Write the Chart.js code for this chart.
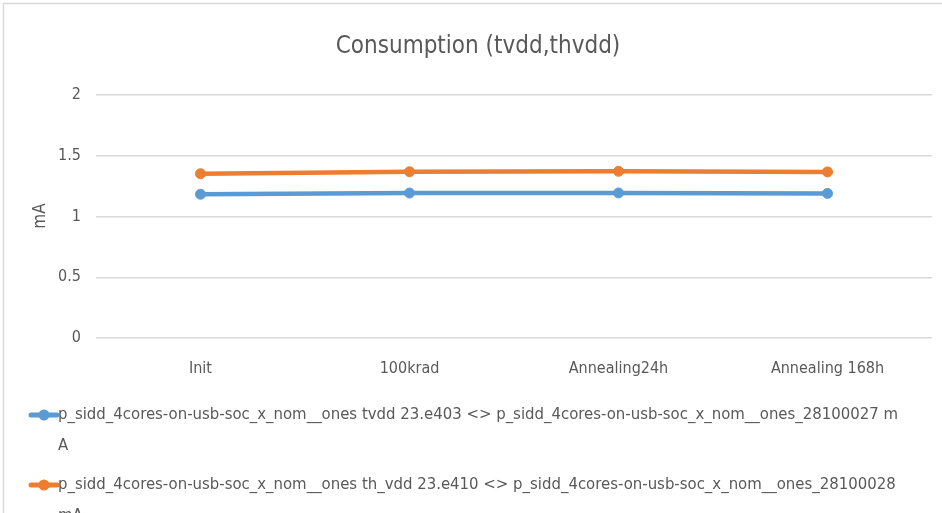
<!DOCTYPE html>
<html>
<head>
<meta charset="utf-8">
<script src="https://cdn.jsdelivr.net/npm/chart.js@4/dist/chart.umd.min.js"></script>
<style>
  html, body { margin: 0; padding: 0; background: #fff; }
  #wrap { width: 942px; height: 513px; position: relative; overflow: hidden; }
</style>
</head>
<body>
<div id="wrap"><canvas id="c" width="942" height="513"></canvas></div>
<script>
const categories = ['Init', '100krad', 'Annealing24h', 'Annealing 168h'];
const tvddValues = [1.183, 1.193, 1.194, 1.190];
const thvddValues = [1.352, 1.368, 1.372, 1.367];
const tvddLegend = ['p_sidd_4cores-on-usb-soc_x_nom__ones tvdd 23.e403 <> p_sidd_4cores-on-usb-soc_x_nom__ones_28100027 m', 'A'];
const thvddLegend = ['p_sidd_4cores-on-usb-soc_x_nom__ones th_vdd 23.e410 <> p_sidd_4cores-on-usb-soc_x_nom__ones_28100028', 'mA'];
const yTicks = [0, 0.5, 1, 1.5, 2];

const FONT = '"Liberation Sans Narrow", "DejaVu Sans Condensed", "Liberation Sans", sans-serif';
const TEXT = '#595959';
const BLUE = '#5B9BD5';
const ORANGE = '#ED7D31';

// Frame, title, axis title and the wrapped legend underneath the plot
const decorations = {
  id: 'decorations',
  beforeDraw(chart) {
    const ctx = chart.ctx;
    ctx.save();
    ctx.strokeStyle = '#d9d9d9';
    ctx.lineWidth = 1.5;
    ctx.beginPath();
    ctx.moveTo(3.5, 520);
    ctx.lineTo(3.5, 3.5);
    ctx.lineTo(950, 3.5);
    ctx.stroke();
    ctx.restore();
  },
  afterDraw(chart) {
    const ctx = chart.ctx;
    ctx.save();
    ctx.fillStyle = TEXT;
    ctx.textAlign = 'center';
    ctx.textBaseline = 'middle';
    ctx.font = '24px ' + FONT;
    ctx.fillText('Consumption (tvdd,thvdd)', 478, 47);

    ctx.save();
    ctx.translate(41, 216);
    ctx.rotate(-Math.PI / 2);
    ctx.font = '17px ' + FONT;
    ctx.fillText('mA', 0, 0);
    ctx.restore();

    const items = [
      { lines: tvddLegend, color: BLUE, y: 415 },
      { lines: thvddLegend, color: ORANGE, y: 485 }
    ];
    items.forEach(it => {
      ctx.strokeStyle = it.color;
      ctx.fillStyle = it.color;
      ctx.lineWidth = 5;
      ctx.lineCap = 'round';
      ctx.beginPath();
      ctx.moveTo(31, it.y);
      ctx.lineTo(57, it.y);
      ctx.stroke();
      ctx.beginPath();
      ctx.arc(44, it.y, 5.5, 0, Math.PI * 2);
      ctx.fill();
      ctx.fillStyle = TEXT;
      ctx.textAlign = 'left';
      ctx.font = '16.6px ' + FONT;
      it.lines.forEach((ln, i) => {
        ctx.fillText(ln, 58, it.y + i * 31);
      });
    });
    ctx.restore();
  }
};

new Chart(document.getElementById('c'), {
  type: 'line',
  data: {
    labels: categories,
    datasets: [
      {
        label: tvddLegend.join(''),
        data: tvddValues,
        borderColor: BLUE,
        backgroundColor: BLUE,
        borderWidth: 4.5,
        pointRadius: 5,
        pointBorderWidth: 1,
        pointHoverRadius: 5,
        tension: 0
      },
      {
        label: thvddLegend.join(' '),
        data: thvddValues,
        borderColor: ORANGE,
        backgroundColor: ORANGE,
        borderWidth: 4.5,
        pointRadius: 5,
        pointBorderWidth: 1,
        pointHoverRadius: 5,
        tension: 0
      }
    ]
  },
  options: {
    responsive: false,
    animation: false,
    layout: { padding: { left: 0, right: 10, top: 95, bottom: 115 } },
    plugins: {
      legend: { display: false },
      title: { display: false },
      tooltip: { enabled: false }
    },
    scales: {
      x: {
        offset: true,
        grid: { display: false, drawTicks: false },
        border: { display: false },
        ticks: { color: TEXT, font: { family: FONT, size: 16 }, padding: 21, maxRotation: 0 },
        afterFit(scale) { scale.height = 60; }
      },
      y: {
        min: 0,
        max: 2,
        afterBuildTicks(scale) { scale.ticks = yTicks.map(v => ({ value: v })); },
        grid: { color: '#d9d9d9', lineWidth: 1.5, drawTicks: false },
        border: { display: false },
        ticks: {
          color: TEXT,
          font: { family: FONT, size: 16 },
          padding: 15,
          callback: v => String(v)
        },
        afterFit(scale) { scale.width = 96; }
      }
    }
  },
  plugins: [decorations]
});
</script>
</body>
</html>
